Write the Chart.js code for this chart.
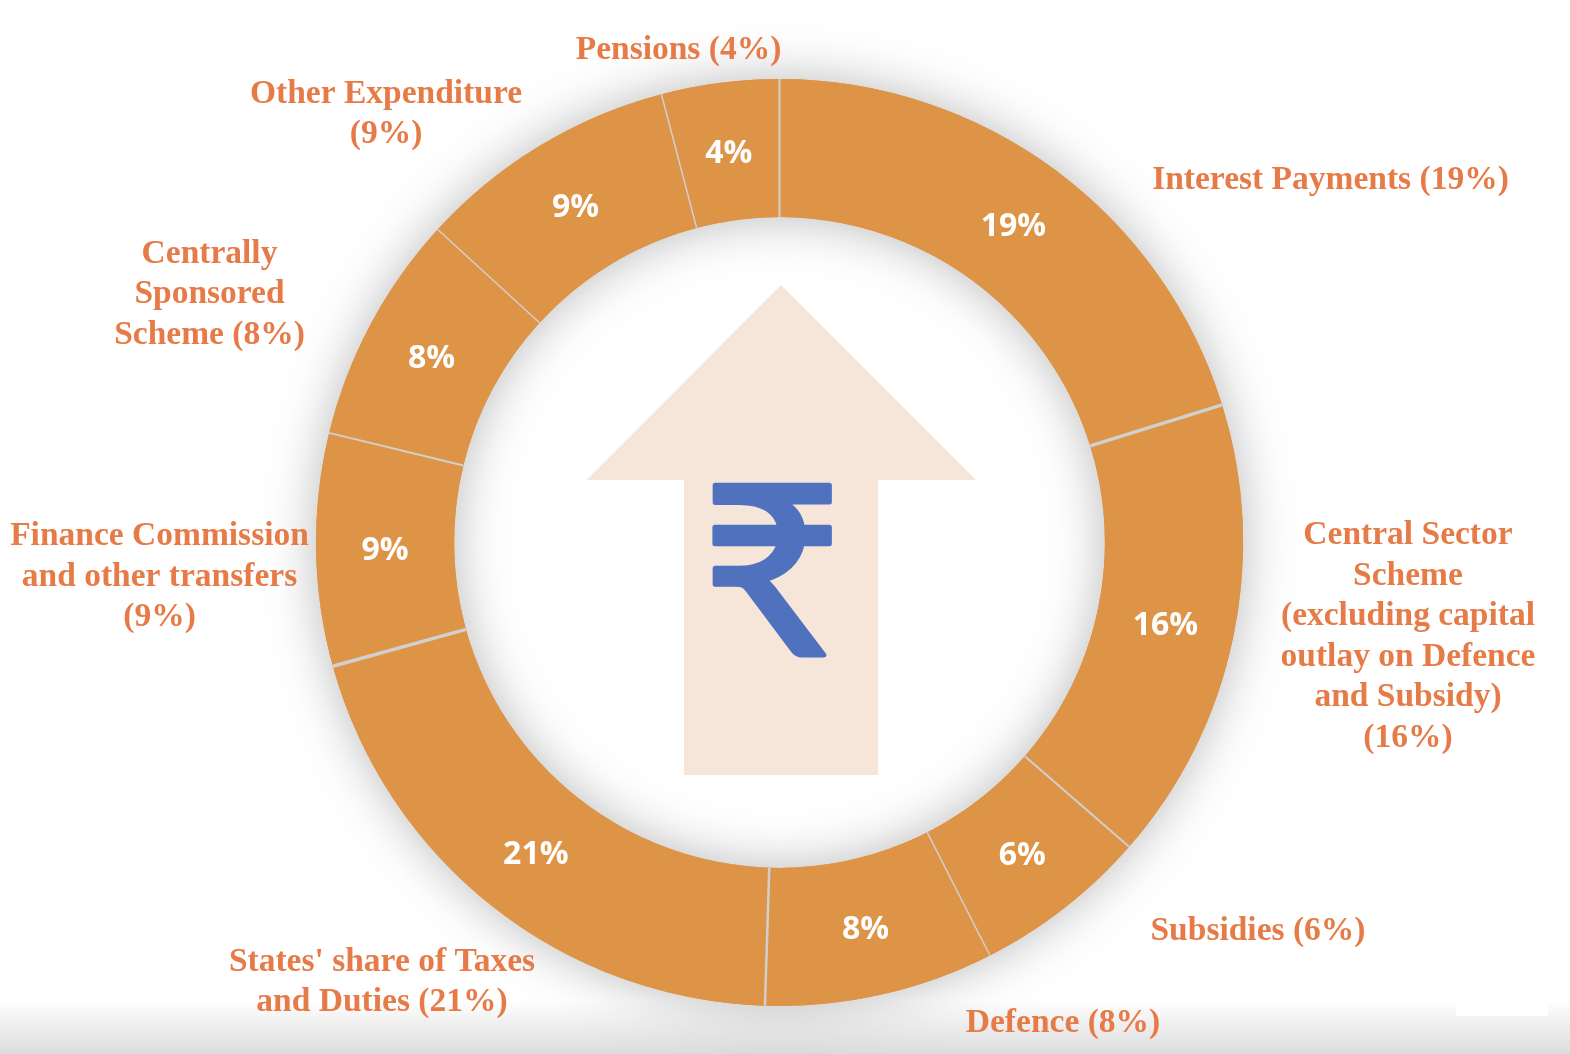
<!DOCTYPE html>
<html>
<head>
<meta charset="utf-8">
<title>Rupee goes to</title>
<script src="https://cdn.jsdelivr.net/npm/chart.js@4"></script>
<style>
  html, body { margin: 0; padding: 0; background: #fff; overflow: hidden; }
  canvas { display: block; }
</style>
</head>
<body>
<canvas id="rupeeChart" width="1570" height="1054"></canvas>
<script>
// Slice names, clockwise from 12 o'clock
const categories = ["Interest Payments", "Central Sector Scheme", "Subsidies", "Defence", "States' share of Taxes and Duties", "Finance Commission and other transfers", "Centrally Sponsored Scheme", "Other Expenditure", "Pensions"];
// Printed percentages
const printedShares = [19, 16, 6, 8, 21, 9, 8, 9, 4];
// Slice sizes as drawn in the picture (they differ a little from the printed ones)
const drawnShares = [20.2, 16.2, 6.1, 8.0, 20.2, 8.1, 8.0, 9.1, 4.1];
// Outer label lines
const outerLabels = [
    ["Interest Payments (19%)"],
    ["Central Sector", "Scheme", "(excluding capital", "outlay on Defence", "and Subsidy)", "(16%)"],
    ["Subsidies (6%)"],
    ["Defence (8%)"],
    ["States' share of Taxes", "and Duties (21%)"],
    ["Finance Commission", "and other transfers", "(9%)"],
    ["Centrally", "Sponsored", "Scheme (8%)"],
    ["Other Expenditure", "(9%)"],
    ["Pensions (4%)"]
];

// Where each outer label sits: centre x, y of the first line
const labelX = [1330.5, 1408, 1258, 1063, 382, 159.5, 209.5, 386, 678.5];
const labelY = [180, 535.5, 931, 1023, 962, 536.5, 254, 94, 50];
const LINE_HEIGHT = 40.5;
// Width of the grey line after each slice
const separatorWidths = [3.5, 2, 1.5, 2.5, 3.5, 2, 1.5, 1.5, 2];

const ORANGE = "#de9446";
const LABEL_COLOR = "#e67b48";

// Page backdrop: grey fade along the bottom and the small white patch
const backdrop = {
    id: "backdrop",
    beforeDraw(chart) {
        const c = chart.ctx;
        const fade = c.createLinearGradient(0, 1000, 0, 1054);
        fade.addColorStop(0, "rgba(220,220,220,0)");
        fade.addColorStop(1, "rgba(220,220,220,1)");
        c.fillStyle = "#fff";
        c.fillRect(0, 0, 1570, 1054);
        c.fillStyle = fade;
        c.fillRect(0, 1000, 1570, 54);
        c.fillStyle = "#fff";
        c.fillRect(1456, 975, 92, 41);
    }
};

// Soft shadow under the whole ring, taken from the arc geometry
const ringShadow = {
    id: "ringShadow",
    beforeDatasetsDraw(chart) {
        const arc = chart.getDatasetMeta(0).data[0];
        const c = chart.ctx;
        c.save();
        c.shadowColor = "rgba(0,0,0,0.27)";
        c.shadowBlur = 50;
        c.fillStyle = ORANGE;
        c.beginPath();
        c.arc(arc.x, arc.y, arc.outerRadius, 0, Math.PI * 2);
        c.arc(arc.x, arc.y, arc.innerRadius, 0, Math.PI * 2, true);
        c.fill("evenodd");
        c.restore();
    }
};

// Up arrow with the rupee sign in the hole of the ring
const centerArrow = {
    id: "centerArrow",
    beforeDatasetsDraw(chart) {
        const c = chart.ctx;
        c.save();
        c.fillStyle = "#f6e5d9";
        c.beginPath();
        c.moveTo(781, 285);
        c.lineTo(976, 480);
        c.lineTo(878, 480);
        c.lineTo(878, 775);
        c.lineTo(684, 775);
        c.lineTo(684, 480);
        c.lineTo(586.5, 480);
        c.closePath();
        c.fill();
        // regular weight plus a round stroke gives the soft ends of the sign
        c.translate(700.5, 655);
        c.scale(1.045, 1.012);
        c.fillStyle = "#4f71be";
        c.strokeStyle = "#4f71be";
        c.lineJoin = "round";
        c.lineWidth = 5;
        c.font = "234px Lato";
        c.textAlign = "left";
        c.textBaseline = "alphabetic";
        c.fillText("₹", 0, 0);
        c.strokeText("₹", 0, 0);
        c.restore();
    }
};

// Separators, percentages and outer labels
const sliceText = {
    id: "sliceText",
    afterDatasetsDraw(chart) {
        const c = chart.ctx;
        const arcs = chart.getDatasetMeta(0).data;
        c.save();
        c.strokeStyle = "#d0d0d0";
        arcs.forEach((arc, i) => {
            c.lineWidth = separatorWidths[i];
            c.beginPath();
            c.moveTo(arc.x + Math.cos(arc.endAngle) * arc.innerRadius, arc.y + Math.sin(arc.endAngle) * arc.innerRadius);
            c.lineTo(arc.x + Math.cos(arc.endAngle) * arc.outerRadius, arc.y + Math.sin(arc.endAngle) * arc.outerRadius);
            c.stroke();
        });
        c.textAlign = "center";
        c.textBaseline = "middle";
        c.fillStyle = "#fff";
        c.font = "bold 32px 'Open Sans'";
        arcs.forEach((arc, i) => {
            const p = arc.tooltipPosition();
            c.fillText(printedShares[i] + "%", p.x, p.y + 2.5);
        });
        c.fillStyle = LABEL_COLOR;
        c.font = "bold 33.5px 'Liberation Serif'";
        outerLabels.forEach((lines, i) => {
            lines.forEach((line, n) => {
                c.fillText(line, labelX[i], labelY[i] + n * LINE_HEIGHT);
            });
        });
        c.restore();
    }
};

new Chart(document.getElementById("rupeeChart").getContext("2d"), {
    type: "doughnut",
    data: {
        labels: categories,
        datasets: [{ data: drawnShares, backgroundColor: ORANGE, borderWidth: 0 }]
    },
    options: {
        responsive: false,
        animation: false,
        cutout: "70.2%",
        layout: { padding: { left: 316, right: 327, top: 79, bottom: 48 } },
        plugins: { legend: { display: false }, tooltip: { enabled: false } }
    },
    plugins: [backdrop, ringShadow, centerArrow, sliceText]
});
</script>
</body>
</html>
